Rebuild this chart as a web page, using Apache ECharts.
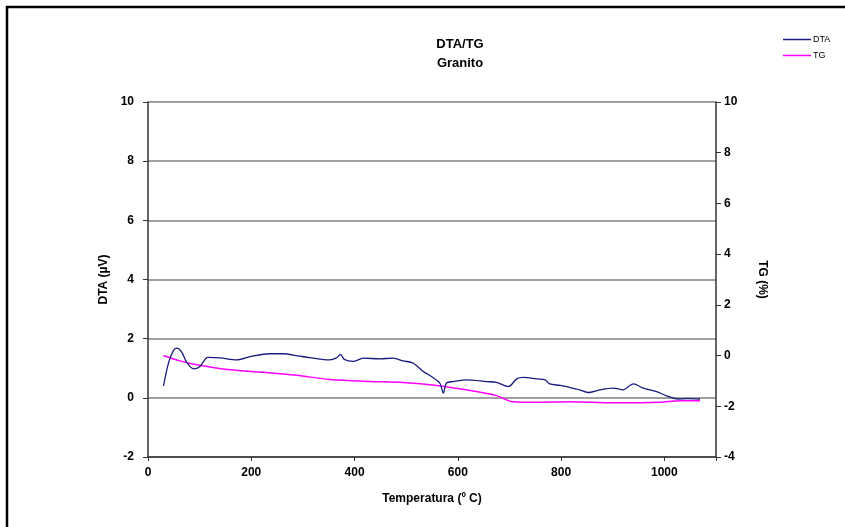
<!DOCTYPE html>
<html>
<head>
<meta charset="utf-8">
<script src="https://cdn.jsdelivr.net/npm/echarts@6/dist/echarts.min.js"></script>
<style>
  html, body { margin: 0; padding: 0; background: #fff; }
  #chart_dta_tg { width: 845px; height: 527px; }
</style>
</head>
<body>
<div id="chart_dta_tg"></div>
<script>
// DTA curve (temperature in ºC, signal in µV)
const dtaTemps = [30, 40, 50, 56, 65, 75, 88, 100, 116, 140, 172, 200, 236, 262, 290, 313, 352, 365, 373, 380, 397, 417, 449, 475, 494, 514, 533, 549, 565, 572, 578, 591, 617, 656, 675, 698, 714, 727, 753, 769, 778, 798, 817, 836, 852, 875, 901, 920, 940, 959, 985, 1004, 1027, 1043, 1069];
const dtaValues = [0.40, 1.20, 1.62, 1.68, 1.55, 1.20, 0.98, 1.05, 1.37, 1.35, 1.28, 1.40, 1.49, 1.49, 1.42, 1.36, 1.28, 1.35, 1.47, 1.30, 1.23, 1.34, 1.32, 1.34, 1.25, 1.17, 0.89, 0.72, 0.50, 0.16, 0.50, 0.55, 0.61, 0.55, 0.52, 0.38, 0.64, 0.69, 0.64, 0.61, 0.47, 0.42, 0.35, 0.27, 0.18, 0.27, 0.33, 0.27, 0.47, 0.33, 0.21, 0.07, -0.04, -0.03, -0.04];
// TG curve (temperature in ºC, mass change in %)
const tgTemps = [30, 60, 94, 159, 223, 288, 352, 430, 494, 559, 636, 675, 707, 753, 817, 901, 991, 1030, 1069];
const tgValues = [0.0, -0.20, -0.36, -0.56, -0.66, -0.78, -0.94, -1.02, -1.06, -1.18, -1.42, -1.58, -1.82, -1.84, -1.82, -1.86, -1.84, -1.78, -1.78];

const fontFamily = "'Liberation Sans', Arial, sans-serif";
const axisLabelStyle = { color: "#000", fontWeight: "bold", fontSize: 12, fontFamily: fontFamily };

const chart = echarts.init(document.getElementById("chart_dta_tg"), null, { renderer: "canvas" });
const option = {
  animation: false,
  backgroundColor: "#fff",
  title: {
    text: "DTA/TG\nGranito",
    left: 455,
    textAlign: "center",
    top: 30,
    textStyle: { color: "#000", fontWeight: "bold", fontSize: 13, fontFamily: fontFamily, lineHeight: 19 },
  },
  legend: {
    orient: "vertical",
    left: 778,
    top: 30,
    itemGap: 7,
    itemWidth: 28,
    itemHeight: 1.5,
    icon: "rect",
    textStyle: { color: "#000", fontSize: 9, fontFamily: fontFamily, padding: [0, 0, 0, -3] },
    data: ["DTA", "TG"],
  },
  grid: { left: 148, right: 129, top: 102, bottom: 70 },
  xAxis: {
    type: "value",
    min: 0,
    max: 1100,
    interval: 200,
    name: "Temperatura (º C)",
    nameLocation: "middle",
    nameGap: 36,
    nameTextStyle: axisLabelStyle,
    axisLine: { onZero: false, lineStyle: { color: "#333", width: 1.5 } },
    axisTick: { show: true, length: 4, lineStyle: { color: "#333" } },
    axisLabel: Object.assign({ margin: 10, formatter: (v) => (v > 1000 ? "" : v) }, axisLabelStyle),
    splitLine: { show: false },
  },
  yAxis: [
    {
      type: "value",
      min: -2,
      max: 10,
      interval: 2,
      name: "DTA (µV)",
      nameLocation: "middle",
      nameGap: 36,
      nameRotate: 90,
      nameTextStyle: axisLabelStyle,
      axisLine: { show: true, onZero: false, lineStyle: { color: "#333", width: 1.5 } },
      axisTick: { show: true, length: 5, lineStyle: { color: "#333" } },
      axisLabel: Object.assign({ margin: 14 }, axisLabelStyle),
      splitLine: { show: true, lineStyle: { color: "#808080", width: 1.5 } },
    },
    {
      type: "value",
      min: -4,
      max: 10,
      interval: 2,
      position: "right",
      name: "TG (%)",
      nameLocation: "middle",
      nameGap: 40,
      nameRotate: -90,
      nameTextStyle: axisLabelStyle,
      axisLine: { show: true, onZero: false, lineStyle: { color: "#333", width: 1.5 } },
      axisTick: { show: true, length: 5, lineStyle: { color: "#333" } },
      axisLabel: Object.assign({ margin: 8 }, axisLabelStyle),
      splitLine: { show: false },
    },
  ],
  graphic: [
    {
      type: "rect",
      shape: { x: 7, y: 7, width: 900, height: 600 },
      style: { fill: "none", stroke: "#000", lineWidth: 2.5 },
      silent: true,
    },
  ],
  series: [
    {
      name: "DTA",
      type: "line",
      yAxisIndex: 0,
      symbol: "none",
      smooth: 0.3,
      lineStyle: { color: "#1a1a80", width: 1.3 },
      itemStyle: { color: "#1a1a80" },
      data: dtaTemps.map((t, i) => [t, dtaValues[i]]),
      z: 3,
    },
    {
      name: "TG",
      type: "line",
      yAxisIndex: 1,
      symbol: "none",
      smooth: 0.3,
      lineStyle: { color: "#ff00ff", width: 1.5 },
      itemStyle: { color: "#ff00ff" },
      data: tgTemps.map((t, i) => [t, tgValues[i]]),
      z: 2,
    },
  ],
};
chart.setOption(option);
</script>
</body>
</html>
